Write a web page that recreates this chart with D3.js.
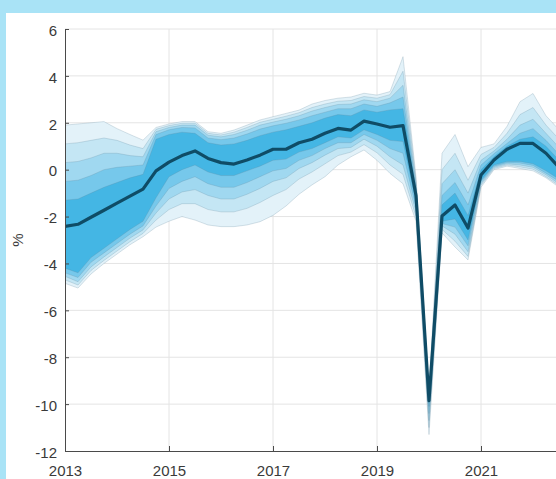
<!DOCTYPE html>
<html>
<head>
<meta charset="utf-8">
<script src="https://cdn.jsdelivr.net/npm/d3@7"></script>
<style>
  html, body { margin: 0; padding: 0; background: #a9e3f6; }
  svg { display: block; }
  text { font-family: "Liberation Sans", Arial, sans-serif; fill: #3a3a3a; }
</style>
</head>
<body>
<svg id="chart" width="556" height="479"></svg>
<script>
// Quarterly observations, 2013Q1 onwards
const quarter = d3.range(39).map(k => 2013 + k / 4);

// Central projection (%)
const center = [-2.42, -2.33, -2.03, -1.73, -1.43, -1.13, -0.83, -0.05, 0.32, 0.6,
  0.8, 0.48, 0.3, 0.24, 0.41, 0.62, 0.87, 0.87, 1.15, 1.3,
  1.55, 1.76, 1.69, 2.07, 1.95, 1.81, 1.88, -1.1, -9.85, -1.98,
  -1.51, -2.49, -0.23, 0.41, 0.87, 1.12, 1.12, 0.7, 0.1];

// Upper band edges, innermost (1) to outermost (5)
const upper1 = [-1.3, -1.25, -1.0, -0.75, -0.55, -0.35, -0.2, 1.3, 1.5, 1.6,
  1.55, 1.15, 1.05, 1.1, 1.25, 1.45, 1.6, 1.7, 1.85, 2.0,
  2.2, 2.35, 2.3, 2.55, 2.45, 2.55, 2.6, -0.9, -9.78, -1.5,
  -1.0, -1.95, 0.0, 0.55, 1.0, 1.3, 1.4, 1.0, 0.4];
const upper2 = [-0.5, -0.45, -0.25, 0.0, 0.1, 0.15, 0.2, 1.5, 1.7, 1.8,
  1.78, 1.35, 1.28, 1.35, 1.52, 1.73, 1.87, 1.98, 2.12, 2.3,
  2.45, 2.6, 2.6, 2.8, 2.7, 2.85, 3.1, -0.75, -9.72, -1.1,
  -0.55, -1.5, 0.2, 0.68, 1.12, 1.55, 1.75, 1.25, 0.65];
const upper3 = [0.3, 0.35, 0.5, 0.7, 0.7, 0.6, 0.55, 1.62, 1.8, 1.9,
  1.9, 1.47, 1.4, 1.5, 1.68, 1.9, 2.03, 2.15, 2.3, 2.5,
  2.65, 2.78, 2.8, 2.98, 2.9, 3.05, 3.6, -0.6, -9.65, -0.6,
  0.0, -1.0, 0.4, 0.8, 1.3, 1.9, 2.15, 1.55, 0.95];
const upper4 = [1.1, 1.15, 1.25, 1.35, 1.25, 1.05, 0.9, 1.72, 1.88, 1.98,
  1.98, 1.55, 1.48, 1.6, 1.8, 2.02, 2.15, 2.28, 2.43, 2.65,
  2.8, 2.92, 2.95, 3.12, 3.05, 3.2, 4.2, -0.45, -9.58, 0.0,
  0.7, -0.45, 0.65, 0.95, 1.55, 2.35, 2.65, 1.9, 1.3];
const upper5 = [1.9, 1.95, 2.0, 2.05, 1.75, 1.5, 1.26, 1.8, 1.95, 2.05,
  2.05, 1.62, 1.55, 1.69, 1.9, 2.12, 2.26, 2.4, 2.54, 2.8,
  2.95, 3.05, 3.1, 3.26, 3.18, 3.33, 4.82, -0.3, -9.5, 0.7,
  1.5, 0.13, 0.95, 1.1, 1.85, 2.9, 3.25, 2.3, 1.7];

// Lower band edges, innermost (1) to outermost (5)
const lower1 = [-4.2, -4.4, -3.75, -3.35, -2.95, -2.55, -2.2, -1.2, -0.3, 0.0,
  0.2, -0.1, -0.25, -0.25, -0.05, 0.15, 0.4, 0.45, 0.75, 0.9,
  1.15, 1.4, 1.35, 1.7, 1.5, 1.25, 1.2, -1.4, -10.1, -2.2,
  -2.1, -3.0, -0.45, 0.2, 0.35, 0.35, 0.25, -0.05, -0.4];
const lower2 = [-4.4, -4.6, -3.95, -3.55, -3.15, -2.75, -2.4, -1.55, -0.8, -0.5,
  -0.3, -0.6, -0.75, -0.75, -0.55, -0.3, -0.05, 0.05, 0.4, 0.6,
  0.9, 1.15, 1.15, 1.5, 1.25, 0.9, 0.7, -1.6, -10.4, -2.3,
  -2.45, -3.25, -0.52, 0.15, 0.3, 0.28, 0.18, -0.15, -0.5];
const lower3 = [-4.55, -4.78, -4.15, -3.72, -3.32, -2.92, -2.57, -1.85, -1.25, -0.95,
  -0.85, -1.1, -1.25, -1.25, -1.05, -0.8, -0.5, -0.35, 0.05, 0.3,
  0.62, 0.9, 0.95, 1.3, 1.0, 0.55, 0.2, -1.8, -10.7, -2.4,
  -2.75, -3.5, -0.6, 0.1, 0.25, 0.2, 0.1, -0.22, -0.6];
const lower4 = [-4.7, -4.92, -4.3, -3.87, -3.47, -3.07, -2.72, -2.15, -1.7, -1.45,
  -1.45, -1.7, -1.8, -1.8, -1.65, -1.4, -1.1, -0.85, -0.4, -0.1,
  0.25, 0.6, 0.75, 1.07, 0.72, 0.2, -0.2, -2.0, -11.0, -2.55,
  -3.05, -3.7, -0.67, 0.05, 0.2, 0.12, 0.02, -0.3, -0.68];
const lower5 = [-4.85, -5.05, -4.45, -4.0, -3.6, -3.2, -2.86, -2.45, -2.2, -2.0,
  -2.15, -2.36, -2.43, -2.43, -2.36, -2.22, -1.95, -1.55, -1.05, -0.65,
  -0.3, 0.2, 0.55, 0.84, 0.4, -0.16, -0.6, -2.2, -11.3, -2.7,
  -3.3, -3.85, -0.75, 0.0, 0.15, 0.05, -0.05, -0.35, -0.75];

const yTicks = [-12, -10, -8, -6, -4, -2, 0, 2, 4, 6];
const xTicks = [2013, 2015, 2017, 2019, 2021];
const yLabel = "%";

const svg = d3.select("#chart");
const W = 556, H = 479;

// white panel inside the coloured frame
svg.append("rect").attr("x", 6).attr("y", 13).attr("width", W - 6).attr("height", H - 13).attr("fill", "#ffffff");

const x = d3.scaleLinear().domain([2013, 2023]).range([65, 585]);
const y = d3.scaleLinear().domain([-12, 6]).range([451, 29]);

svg.append("defs").append("clipPath").attr("id", "plotClip")
  .append("rect").attr("x", 65).attr("y", 29).attr("width", W - 65).attr("height", 422);

// grid
const grid = svg.append("g");
grid.selectAll("line.h").data(yTicks.filter(v => v > -12)).join("line")
  .attr("x1", 65).attr("x2", W).attr("y1", d => y(d)).attr("y2", d => y(d))
  .attr("stroke", "#e4e4e4").attr("stroke-width", 1);
grid.selectAll("line.v").data(xTicks.filter(v => v > 2013)).join("line")
  .attr("x1", d => x(d)).attr("x2", d => x(d)).attr("y1", 29).attr("y2", 451)
  .attr("stroke", "#e4e4e4").attr("stroke-width", 1);

// fan bands, outermost first
const bands = [
  { hi: upper5, lo: lower5, fill: "#e3f2f9" },
  { hi: upper4, lo: lower4, fill: "#c4e6f4" },
  { hi: upper3, lo: lower3, fill: "#a0d8f0" },
  { hi: upper2, lo: lower2, fill: "#76c8eb" },
  { hi: upper1, lo: lower1, fill: "#44b6e4" }
];

const plot = svg.append("g").attr("clip-path", "url(#plotClip)");

bands.forEach(b => {
  const area = d3.area()
    .x((d, i) => x(quarter[i]))
    .y0((d, i) => y(b.lo[i]))
    .y1((d, i) => y(b.hi[i]));
  plot.append("path").datum(quarter).attr("d", area).attr("fill", b.fill);
});

// thin edges of every band
const edge = arr => d3.line().x((d, i) => x(quarter[i])).y((d, i) => y(arr[i]));
[upper1, upper2, upper3, upper4, upper5, lower1, lower2, lower3, lower4, lower5].forEach(arr => {
  plot.append("path").datum(quarter).attr("d", edge(arr))
    .attr("fill", "none").attr("stroke", "rgba(95,135,155,0.3)").attr("stroke-width", 0.8);
});

// central line
plot.append("path").datum(quarter).attr("d", edge(center))
  .attr("fill", "none").attr("stroke", "#0f4c66").attr("stroke-width", 3.2)
  .attr("stroke-linejoin", "round");

// axes (plain hyphen for negative numbers)
const fmt = d => String(d);
const axisColor = "#4a4a4a";
const yAxis = d3.axisLeft(y).tickValues(yTicks).tickFormat(fmt).tickSizeInner(-4).tickSizeOuter(0).tickPadding(8);
const gy = svg.append("g").attr("transform", "translate(65,0)").call(yAxis);
gy.select(".domain").attr("stroke", axisColor);
gy.selectAll(".tick line").attr("stroke", axisColor);
gy.selectAll(".tick text").attr("font-size", 15).attr("fill", "#3a3a3a").attr("dy", "0.42em")
  .attr("font-family", "Liberation Sans, Arial, sans-serif");

const xAxis = d3.axisBottom(x).tickValues(xTicks).tickFormat(fmt).tickSizeInner(-5).tickSizeOuter(0).tickPadding(14);
const gx = svg.append("g").attr("transform", "translate(0,451)").call(xAxis);
gx.select(".domain").attr("stroke", axisColor);
gx.selectAll(".tick line").attr("stroke", axisColor);
gx.selectAll(".tick text").attr("font-size", 15).attr("fill", "#3a3a3a")
  .attr("font-family", "Liberation Sans, Arial, sans-serif");

svg.append("text")
  .attr("transform", "translate(23,240) rotate(-90)")
  .attr("text-anchor", "middle")
  .attr("font-size", 15)
  .text(yLabel);
</script>
</body>
</html>
